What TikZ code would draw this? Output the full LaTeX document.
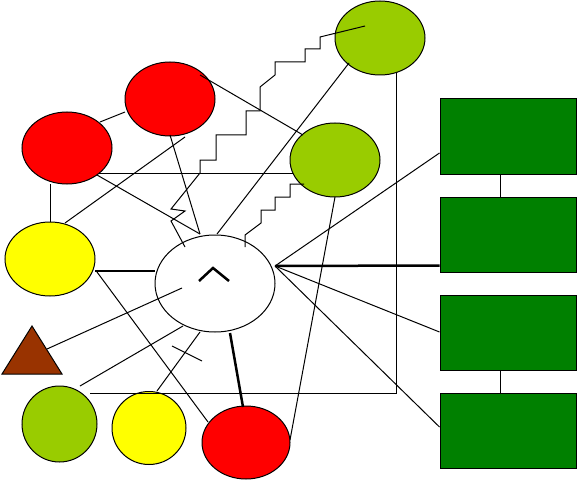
\documentclass[tikz,border=0pt]{standalone}
\usetikzlibrary{shapes.geometric}
\definecolor{cred}{HTML}{FF0000}
\definecolor{cgreen}{HTML}{99CC00}
\definecolor{cyellow}{HTML}{FFFF00}
\definecolor{cbrown}{HTML}{993300}
\definecolor{cdark}{HTML}{008000}
\tikzset{
  blob/.style={ellipse, draw=black, line width=1pt, inner sep=0pt, minimum width=90pt, minimum height=74pt},
  box/.style={rectangle, draw=black, line width=1pt, fill=cdark, inner sep=0pt, minimum width=136pt, minimum height=75pt},
  wire/.style={draw=black, line width=1pt},
  heavy/.style={draw=black, line width=2.5pt},
  stair/.style={draw=black, line width=1pt, line join=miter}
}
\begin{document}
\begin{tikzpicture}[x=1pt,y=-1pt]
\useasboundingbox (0,0) rectangle (577,481);
% ellipses
\node[blob, fill=cgreen] (g1) at (380,38) {};
\node[blob, fill=cred] (r1) at (170,99) {};
\node[blob, fill=cgreen] (g2) at (335,160) {};
\node[blob, fill=cred, minimum height=72pt] (r2) at (67,148) {};
\node[blob, fill=cyellow] (y1) at (50,259) {};
\node[blob, fill=white, minimum width=120pt, minimum height=97pt] (c) at (215,283.5) {};
\node[blob, fill=cgreen, minimum width=75pt, minimum height=76pt] (g3) at (59.5,424) {};
\node[blob, fill=cyellow, minimum width=74pt, minimum height=73pt] (y2) at (149,428) {};
\node[blob, fill=cred, minimum width=88pt, minimum height=73pt] (r3) at (246,442.5) {};
% triangle
\draw[fill=cbrown, line width=1pt] (32,326) coordinate (tritop) -- (2,374) -- (62,374) -- cycle;
\coordinate (tri) at (47,349);
% boxes
\node[box] (b1) at (508,136.5) {};
\node[box] (b2) at (508,234.5) {};
\node[box] (b3) at (508,333) {};
\node[box] (b4) at (508,430.5) {};
% connector points
\coordinate (cfan) at (275,266);
\coordinate (ctop) at (200,234);
\coordinate (ctop2) at (217,234);
\coordinate (cleft) at (155,271);
\coordinate (cbot) at (200,332);
\coordinate (cbot2) at (230,333);
\coordinate (cbl) at (183,326);
\coordinate (cin) at (182,288);
% thin lines
\draw[wire] (100,122) -- (125,112);
\draw[wire] (50,184) -- (50,222);
\draw[wire] (65,223) -- (185,137);
\draw[wire] (99,173) -- (293,173);
\draw[wire] (97,175) -- (ctop);
\draw[wire] (170,135) -- (ctop);
\draw[wire] (200,75) -- (303,135);
\draw[wire] (349,63) -- (ctop2);
\draw[wire] (335,197) -- (290,440);
\draw[wire] (97,272) -- (208,422);
\draw[wire] (tri) -- (cin);
\draw[wire] (80,386) -- (cbl);
\draw[wire] (157,391) -- (cbot);
\draw[wire] (172,346) -- (202,361);
\draw[wire] (396,73) -- (396,393) -- (90,393);
\draw[wire] (cfan) -- (b1.west |- 0,153);
\draw[wire] (cfan) -- (b3.west |- 0,332);
\draw[wire] (cfan) -- (b4.west |- 0,427);
\draw[wire] (b1.south -| 500,0) -- (b2.north -| 500,0);
\draw[wire] (b3.south -| 500,0) -- (b4.north -| 500,0);
% heavy lines
\draw[heavy] (cfan) -- (b2.west |- 0,265.5);
\draw[heavy] (95,271) -- (cleft);
\draw[heavy] (cbot2) -- (243,407);
% caret
\draw[heavy, line join=miter] (199,281) -- (213,268) -- (229,281);
% staircases
\draw[stair] (365,26) -- (320,37) -- (320,49) -- (305,49) -- (305,62) -- (275,62) -- (275,75)
  -- (260,87) -- (260,111) -- (246,111) -- (246,135) -- (216,135) -- (216,160) -- (200,160)
  -- (200,173) -- (171,209) -- (185,211) -- (171,221) -- (185,247);
\draw[stair] (304,184) -- (290,184) -- (290,197) -- (275,197) -- (275,210) -- (261,210)
  -- (261,223) -- (245,235) -- (245,247);
\end{tikzpicture}
\end{document}
